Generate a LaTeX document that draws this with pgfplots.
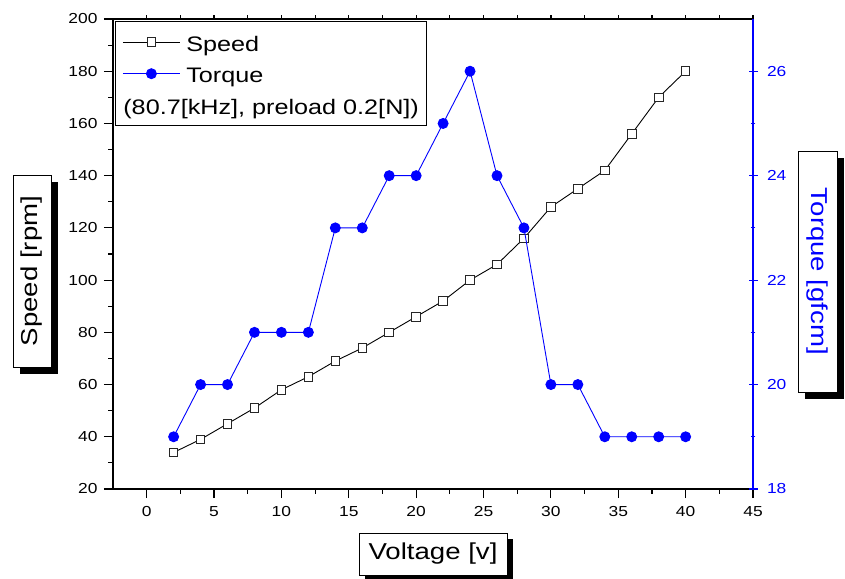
\documentclass[border=0pt]{standalone}
\usepackage{fontspec}
\setmainfont{Liberation Sans}[FakeStretch=1.2]
\usepackage{pgfplots}
\usepackage{pgfplotstable}
\pgfplotsset{compat=1.18}
\definecolor{tblue}{RGB}{0,0,255}

\pgfplotstableread{
v speed torque
2 34 19
4 39 20
6 45 20
8 51 21
10 58 21
12 63 21
14 69 23
16 74 23
18 80 24
20 86 24
22 92 25
24 100 26
26 106 24
28 116 23
30 128 20
32 135 20
34 142 19
36 156 19
38 170 19
40 180 19
}\datatable

\newcommand{\lstrut}{\rule[-4bp]{0pt}{24bp}}

\begin{document}
\begin{tikzpicture}
\pgfplotsset{
  common/.style={
    at={(113bp,90bp)}, anchor=south west,
    width=640bp, height=470bp, scale only axis,
    xmin=-2.5, xmax=45,
    tick align=outside,
    major tick length=9bp, minor tick length=4.5bp,
    every tick/.style={line width=1.2bp},
    tick label style={font=\fontsize{14.5bp}{17bp}\selectfont},
    /pgf/number format/assume math mode=true,
    clip=false,
  }
}
% main (left) axis
\begin{axis}[common,
  axis line style={line width=1.3bp, black},
  ymin=20, ymax=200, ytick={20,40,...,200}, minor y tick num=1,
  xtick={0,5,...,45}, minor x tick num=1,
  xtick pos=left, ytick pos=left,
  every tick/.style={line width=1.2bp, black},
  xticklabel style={yshift=-5bp},
  yticklabel style={xshift=-3bp},
]
\addplot[black, line width=0.9bp, mark=square*, mark size=4.3bp,
  mark options={fill=white, draw=black!85, line width=0.9bp}]
  table[x=v,y=speed]{\datatable};
\end{axis}
% top ticks
\begin{axis}[common,
  ymin=0, ymax=1, hide y axis,
  axis line style={line width=1.3bp, black},
  xtick={0,2.5,...,45}, xticklabels={}, xtick pos=right,
  major tick length=3.5bp,
]
\end{axis}
% right axis (torque)
\begin{axis}[common,
  hide x axis,
  axis y line=right,
  y axis line style={tblue, line width=1.3bp, -},
  every outer y axis line/.append style={-},
  ymin=18, ymax=27, ytick={18,20,...,26}, minor y tick num=1,
  every tick/.style={line width=1.2bp, tblue},
  yticklabel style={tblue, xshift=6bp},
  legend cell align=left,
  legend style={at={(0,1)}, anchor=north west, xshift=2bp, yshift=-2bp,
    draw=black, line width=0.9bp, fill=white,
    font=\fontsize{21bp}{25bp}\selectfont,
    inner xsep=7bp, inner ysep=9bp,
    nodes={inner sep=1bp},
    row sep=8bp, column sep=5bp},
  legend image code/.code={\draw[mark repeat=2,mark phase=2,#1]
    plot coordinates {(0bp,0bp) (28.5bp,0bp) (57bp,0bp)};},
]
\addlegendimage{black, line width=0.9bp, mark=square*, mark size=4.3bp,
  mark options={fill=white, draw=black!85, line width=0.9bp}}
\addlegendentry{\lstrut Speed}
\addplot[tblue, line width=0.9bp, mark=*, mark size=5bp,
  mark options={fill=tblue, draw=tblue}]
  table[x=v,y=torque]{\datatable};
\addlegendentry{\lstrut Torque}
\addlegendimage{empty legend}
\addlegendentry{\lstrut\hspace{-63bp}(80.7[kHz], preload 0.2[N])\hspace{4.5bp}}
\end{axis}

% axis label boxes with shadows
\node[fill=black, minimum width=192bp, minimum height=38bp, inner sep=0pt, rotate=90]
  at (39bp,301bp) {};
\node[draw=black, line width=0.9bp, fill=white, minimum width=192bp, minimum height=38bp,
  inner sep=0pt, rotate=90, font=\fontsize{23bp}{27bp}\selectfont]
  at (32bp,308bp) {Speed [rpm]};

\node[fill=black, minimum width=241bp, minimum height=39bp, inner sep=0pt, rotate=-90]
  at (824.5bp,300.5bp) {};
\node[draw=black, line width=0.9bp, fill=white, minimum width=241bp, minimum height=39bp,
  inner sep=0pt, rotate=-90, text=tblue, font=\fontsize{23bp}{27bp}\selectfont]
  at (817.5bp,307.5bp) {Torque [gfcm]};

\node[fill=black, minimum width=148bp, minimum height=42bp, inner sep=0pt]
  at (439bp,19bp) {};
\node[draw=black, line width=0.9bp, fill=white, minimum width=148bp, minimum height=42bp,
  inner sep=0pt, font=\fontsize{23bp}{27bp}\selectfont]
  at (433bp,25bp) {Voltage [v]};

\pgfresetboundingbox
\path[use as bounding box] (0bp,0bp) rectangle (845bp,579bp);
\end{tikzpicture}
\end{document}
